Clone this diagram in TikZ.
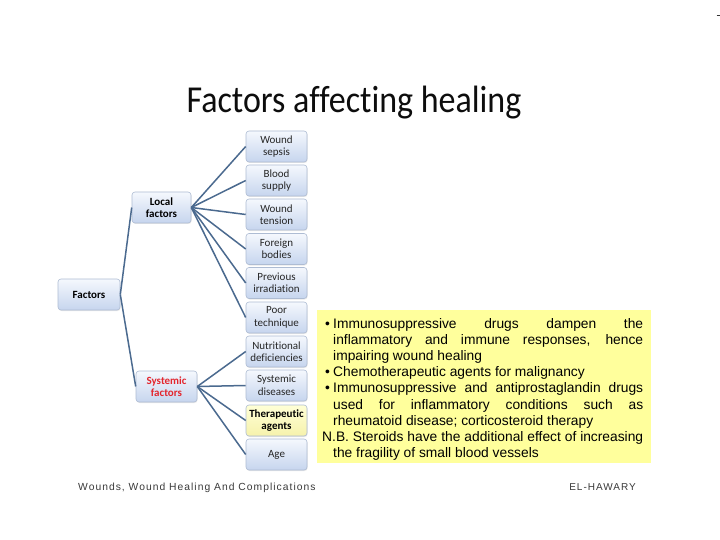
\documentclass[tikz,border=0pt]{standalone}
\usepackage{fontspec}
\setmainfont[Ligatures={NoCommon,NoRare}]{Carlito}
\newfontfamily\yfont{Liberation Sans}
\newfontfamily\footfont[LetterSpace=10]{Liberation Sans}
\usetikzlibrary{shadows}
\definecolor{boxtop}{HTML}{F5F8FD}
\definecolor{boxbot}{HTML}{C6D5EE}
\definecolor{boxline}{HTML}{AEBCD3}
\definecolor{ytop}{HTML}{FFFFD6}
\definecolor{ybot}{HTML}{F6F2AC}
\definecolor{connc}{HTML}{4B6A8F}
\definecolor{sysred}{HTML}{E3262E}
\definecolor{ybg}{HTML}{FFFF9C}
\definecolor{footc}{HTML}{3A3A3A}
\newcommand\YBj[1]{\hbox to 321pt{\hspace{3pt}\makebox[8pt][l]{•}\makebox[310pt][s]{#1}}}
\newcommand\YBl[1]{\hbox to 321pt{\hspace{3pt}\makebox[8pt][l]{•}#1\hfil}}
\newcommand\YCj[1]{\hbox to 321pt{\hspace{11pt}\makebox[310pt][s]{#1}}}
\newcommand\YCl[1]{\hbox to 321pt{\hspace{11pt}#1\hfil}}
\newcommand\YNj[1]{\hbox to 321pt{\makebox[321pt][s]{#1}}}
\tikzset{
  fbox/.style={draw=boxline, line width=0.6pt, rounded corners=3pt,
    top color=boxtop, bottom color=boxbot, minimum width=61pt, minimum height=31pt,
    inner sep=1pt, align=center, text=black!85,
    font=\fontsize{11}{12.5}\selectfont,
    drop shadow={opacity=0.18, shadow xshift=0.6pt, shadow yshift=-1pt}},
  boldbox/.style={fbox, font=\fontsize{11}{12.5}\selectfont\bfseries, text=black},
  hilite/.style={fbox, top color=ytop, bottom color=ybot, font=\fontsize{11}{12.5}\selectfont\bfseries, text=black},
  conn/.style={draw=connc, line width=1.5pt}
}
\begin{document}
\begin{tikzpicture}[x=1pt,y=-1pt]
\useasboundingbox[fill=white] (0,0) rectangle (720,540);
% title
\node[anchor=base, inner sep=0, font=\fontsize{34}{40}\selectfont, text=black!95] (title) at (354,113) {\scalebox{1}[1.12]{Factors affecting healing}};
% yellow text box
\node[fill=ybg, inner sep=0, minimum width=334pt, minimum height=153pt, anchor=north west] (ybox) at (316.5,310) {};
\node[anchor=base west, inner sep=0, font=\yfont\fontsize{13.8}{16.2}\selectfont] (ytext) at (322,328) {\parbox[t]{321pt}{\baselineskip=16.2pt\parindent=0pt
\YBj{Immunosuppressive drugs dampen the}
\YCj{inflammatory and immune responses, hence}
\YCl{impairing wound healing}
\YBl{Chemotherapeutic agents for malignancy}
\YBj{Immunosuppressive and antiprostaglandin drugs}
\YCj{used for inflammatory conditions such as}
\YCl{rheumatoid disease; corticosteroid therapy}
\YNj{N.B. Steroids have the additional effect of increasing}
\YCl{the fragility of small blood vessels}}};
% hierarchy nodes
\node[boldbox, minimum width=62pt] (fac) at (89,294.5) {Factors};
\node[boldbox, minimum width=59pt] (loc) at (161.5,207.5) {Local\\factors};
\node[boldbox, text=sysred] (sys) at (166.5,386.5) {Systemic\\factors};
\node[fbox] (l1) at (276.5,146.5) {Wound\\sepsis};
\node[fbox] (l2) at (276.5,180.5) {Blood\\supply};
\node[fbox] (l3) at (276.5,214.5) {Wound\\tension};
\node[fbox] (l4) at (276.5,249) {Foreign\\bodies};
\node[fbox] (l5) at (276.5,283) {Previous\\irradiation};
\node[fbox] (l6) at (276.5,317.5) {Poor\\technique};
\node[fbox] (s1) at (276.5,351.5) {Nutritional\\deficiencies};
\node[fbox] (s2) at (276.5,385.5) {Systemic\\diseases};
\node[hilite] (s3) at (276.5,420.5) {Therapeutic\\agents};
\node[fbox] (s4) at (276.5,454.5) {Age};
% connectors
\draw[conn] (fac.east) -- (loc.west);
\draw[conn] (fac.east) -- (sys.west);
\foreach \n in {l1,l2,l3,l4,l5,l6} \draw[conn] (loc.east) -- (\n.west);
\foreach \n in {s1,s2,s3,s4} \draw[conn] (sys.east) -- (\n.west);
% footer
\node[anchor=base west, inner sep=0, font=\footfont\fontsize{10.3}{12}\selectfont, text=footc] (foot1) at (78,490) {Wounds, Wound Healing And Complications};
\node[anchor=base east, inner sep=0, font=\footfont\fontsize{10}{12}\selectfont, text=footc] (foot2) at (636,490) {EL-HAWARY};
% small mark top right
\coordinate (m1) at (716.5,15);
\coordinate (m2) at (720,15);
\draw[line width=0.8pt, black!80] (m1) -- (m2);
\end{tikzpicture}
\end{document}
